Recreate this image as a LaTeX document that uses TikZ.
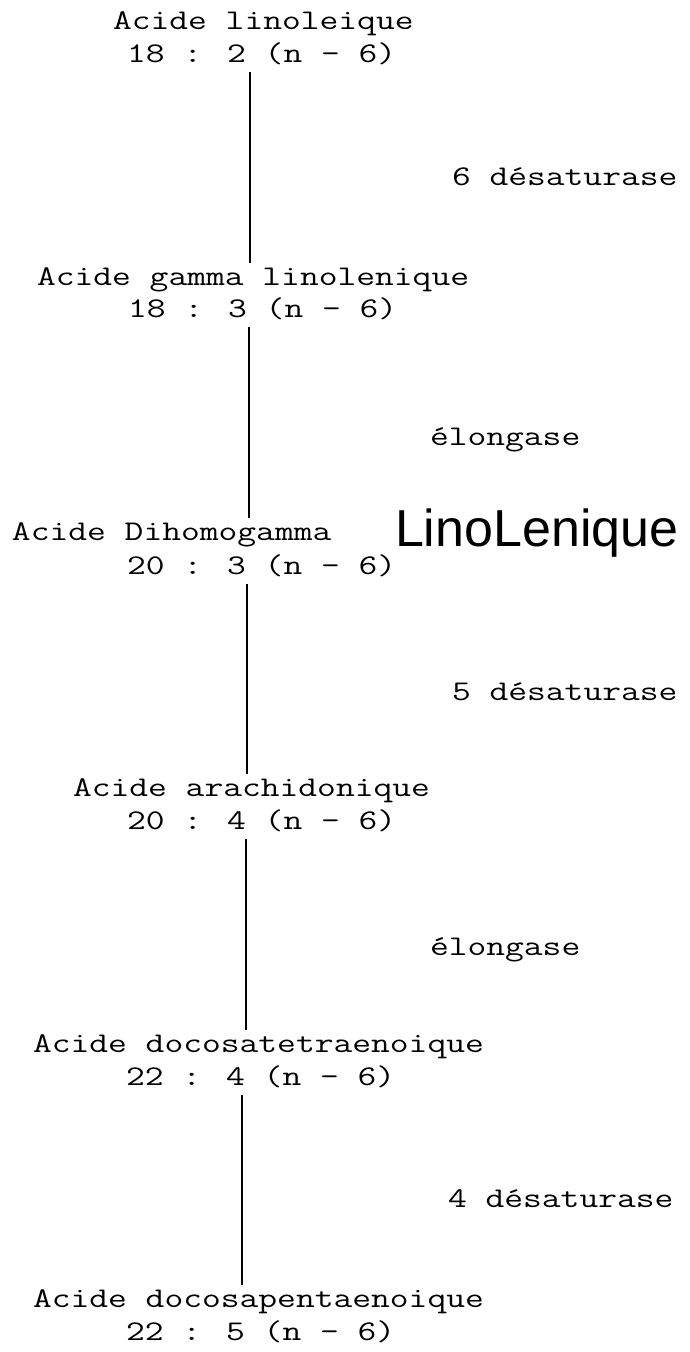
\documentclass[tikz,border=0pt]{standalone}
\usepackage{fontspec}
\usepackage{graphicx}
\newfontfamily\handfont{Liberation Sans}
\newcommand{\tws}[1]{\scalebox{1.28}[1]{#1}}
\begin{document}
\begin{tikzpicture}[x=1pt,y=-1pt,
  tw/.style={font=\ttfamily\fontsize{28.5}{30}\selectfont, anchor=base west, inner sep=0pt, outer sep=0pt, text=black},
  hand/.style={font=\handfont\fontsize{52}{58}\selectfont, anchor=base west, inner sep=0pt, outer sep=0pt, text=black},
  link/.style={line width=1.8pt, draw=black}]
\useasboundingbox[fill=white] (0,0) rectangle (689,1352);
% acids
\node[tw] (a1) at (113,29) {\tws{Acide linoleique}};
\node[tw] (b1) at (127,62) {\tws{18 : 2 (n - 6)}};
\node[tw] (a2) at (37,285) {\tws{Acide gamma linolenique}};
\node[tw] (b2) at (128,317) {\tws{18 : 3 (n - 6)}};
\node[tw] (a3) at (12,540) {\tws{Acide Dihomogamma}};
\node[hand] (hw) at (395,546) {LinoLenique};
\node[tw] (b3) at (127,574) {\tws{20 : 3 (n - 6)}};
\node[tw] (a4) at (73,796) {\tws{Acide arachidonique}};
\node[tw] (b4) at (127,829) {\tws{20 : 4 (n - 6)}};
\node[tw] (a5) at (33,1052) {\tws{Acide docosatetraenoique}};
\node[tw] (b5) at (126,1085) {\tws{22 : 4 (n - 6)}};
\node[tw] (a6) at (33,1307) {\tws{Acide docosapentaenoique}};
\node[tw] (b6) at (126,1340) {\tws{22 : 5 (n - 6)}};
% enzymes
\node[tw] (e1) at (452,185) {\tws{6 désaturase}};
\node[tw] (e2) at (430,445) {\tws{élongase}};
\node[tw] (e3) at (452,700) {\tws{5 désaturase}};
\node[tw] (e4) at (430,955) {\tws{élongase}};
\node[tw] (e5) at (448,1207) {\tws{4 désaturase}};
% connectors
\coordinate (s1a) at (250,72);   \coordinate (s1b) at (250,263);
\coordinate (s2a) at (249,327);  \coordinate (s2b) at (249,518);
\coordinate (s3a) at (247,584);  \coordinate (s3b) at (247,774);
\coordinate (s4a) at (246,839);  \coordinate (s4b) at (246,1030);
\coordinate (s5a) at (242,1095); \coordinate (s5b) at (242,1285);
\draw[link] (s1a) -- (s1b);
\draw[link] (s2a) -- (s2b);
\draw[link] (s3a) -- (s3b);
\draw[link] (s4a) -- (s4b);
\draw[link] (s5a) -- (s5b);
\end{tikzpicture}
\end{document}
